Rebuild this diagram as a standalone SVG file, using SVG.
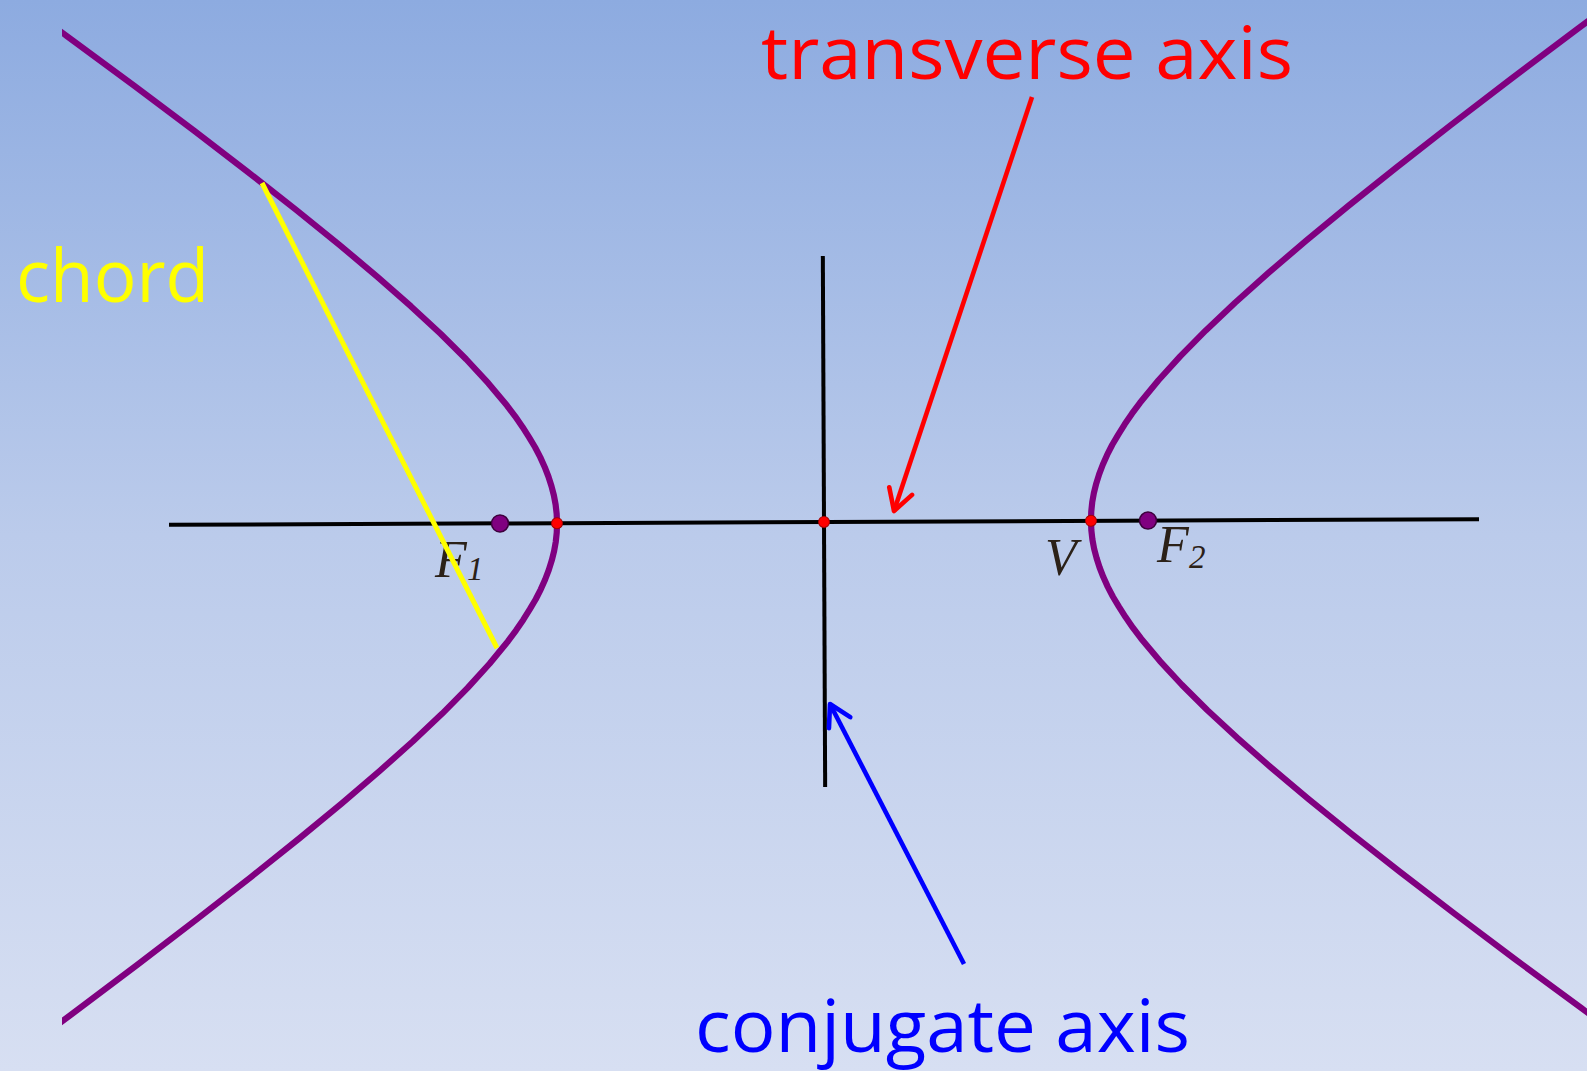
<svg xmlns="http://www.w3.org/2000/svg" width="1587" height="1071" viewBox="0 0 1587 1071">
  <style>
    .axis { stroke: #000; stroke-width: 4; fill: none; stroke-linecap: butt; }
    .hyp { stroke: #800080; stroke-width: 6.2; fill: none; stroke-linejoin: round; }
    .focus { fill: #800080; stroke: #3d003d; stroke-width: 1.5; }
    .vertex { fill: #ff0000; stroke: #a00000; stroke-width: 1; }
    .lbl { font-family: "Liberation Serif", "Times New Roman", serif; font-style: italic; fill: #2b2118; }
    .big { font-family: "Open Sans", "Liberation Sans", sans-serif; font-size: 74px; }
  </style>
  <defs>
    <linearGradient id="bg" x1="0" y1="0" x2="0" y2="1">
      <stop offset="0" stop-color="#8DABE0"/>
      <stop offset="0.5" stop-color="#BBCBEB"/>
      <stop offset="1" stop-color="#D7DFF2"/>
    </linearGradient>
    <clipPath id="clipL">
      <rect x="62" y="0" width="1525" height="1071"/>
    </clipPath>
    <marker id="arrRed" markerUnits="userSpaceOnUse" markerWidth="40" markerHeight="40" viewBox="-30 -20 40 40" refX="0" refY="0" orient="auto">
      <path d="M-21,-12 L0,0 L-21,12" fill="none" stroke="#ff0000" stroke-width="4.6" stroke-linecap="round" stroke-linejoin="round"/>
    </marker>
    <marker id="arrBlue" markerUnits="userSpaceOnUse" markerWidth="40" markerHeight="40" viewBox="-30 -20 40 40" refX="0" refY="0" orient="auto">
      <path d="M-21,-12 L0,0 L-21,12" fill="none" stroke="#0000ff" stroke-width="4.6" stroke-linecap="round" stroke-linejoin="round"/>
    </marker>
  </defs>

  <rect x="0" y="0" width="1587" height="1071" fill="url(#bg)"/>

  <g id="figure" clip-path="url(#clipL)">
    <g transform="rotate(-0.25 824 522)">
      <g id="axes">
        <line class="axis" x1="169" y1="522" x2="1479" y2="522"/>
        <line class="axis" x1="824" y1="256" x2="824" y2="787"/>
      </g>
      <g id="left-branch">
        <path class="hyp" d="M-5.7,-22.3 L68.8,32.6 L135.8,82.5 L195.9,128.1 L249.7,169.7 L297.8,207.8 L340.6,242.7 L378.5,274.9 L412.0,304.6 L441.4,332.1 L466.9,357.7 L488.9,381.7 L507.5,404.2 L515.6,415.0 L522.9,425.6 L529.5,436.1 L535.4,446.0 L540.5,455.9 L544.9,465.7 L548.6,475.3 L551.6,484.8 L554.0,494.2 L555.7,503.5 L556.7,512.8 L557,522 L556.7,531.3 L555.7,540.5 L554.0,549.9 L551.6,559.2 L548.6,568.7 L544.9,578.3 L540.5,588.1 L535.4,598.0 L529.5,607.9 L522.9,618.4 L515.6,629.0 L507.5,639.8 L488.9,662.3 L466.9,686.3 L441.4,711.9 L412.0,739.4 L378.5,769.1 L340.6,801.3 L297.8,836.2 L249.7,874.3 L195.9,915.9 L135.8,961.5 L68.8,1011.4 L-5.7,1066.3"/>
      </g>
      <g id="right-branch">
        <path class="hyp" d="M1653.7,-22.3 L1579.2,32.6 L1512.2,82.5 L1452.1,128.1 L1398.3,169.7 L1350.2,207.8 L1307.4,242.7 L1269.5,274.9 L1236.0,304.6 L1206.6,332.1 L1181.1,357.7 L1159.1,381.7 L1140.5,404.2 L1132.4,415.0 L1125.1,425.6 L1118.5,436.1 L1112.6,446.0 L1107.5,455.9 L1103.1,465.7 L1099.4,475.3 L1096.4,484.8 L1094.0,494.2 L1092.3,503.5 L1091.3,512.8 L1091,522 L1091.3,531.3 L1092.3,540.5 L1094.0,549.9 L1096.4,559.2 L1099.4,568.7 L1103.1,578.3 L1107.5,588.1 L1112.6,598.0 L1118.5,607.9 L1125.1,618.4 L1132.4,629.0 L1140.5,639.8 L1159.1,662.3 L1181.1,686.3 L1206.6,711.9 L1236.0,739.4 L1269.5,769.1 L1307.4,801.3 L1350.2,836.2 L1398.3,874.3 L1452.1,915.9 L1512.2,961.5 L1579.2,1011.4 L1653.7,1066.3"/>
      </g>
    </g>
  </g>

  <g id="labels">
    <g id="label-F1">
      <text class="lbl" x="435" y="577" font-size="52">F</text>
      <text class="lbl" x="467" y="580" font-size="33">1</text>
    </g>
    <g id="label-V">
      <text class="lbl" x="1045" y="575" font-size="52">V</text>
    </g>
    <g id="label-F2">
      <text class="lbl" x="1157" y="562" font-size="52">F</text>
      <text class="lbl" x="1189" y="568" font-size="33">2</text>
    </g>
  </g>

  <g id="chord">
    <line x1="262" y1="183" x2="497" y2="648" stroke="#ffff00" stroke-width="5"/>
  </g>

  <g id="points" transform="rotate(-0.25 824 522)">
    <circle id="F1" class="focus" cx="500" cy="522" r="8.5"/>
    <circle id="F2" class="focus" cx="1148" cy="522" r="8.5"/>
    <circle id="vertex-left" class="vertex" cx="557" cy="522" r="5.5"/>
    <circle id="vertex-right" class="vertex" cx="1091" cy="522" r="5.5"/>
    <circle id="center" class="vertex" cx="824" cy="522" r="5.5"/>
  </g>

  <g id="connectors">
    <line x1="1032" y1="97" x2="894" y2="511" stroke="#ff0000" stroke-width="4.6" marker-end="url(#arrRed)"/>
    <line x1="964" y1="964" x2="830" y2="704" stroke="#0000ff" stroke-width="4.6" marker-end="url(#arrBlue)"/>
  </g>

  <g id="text-transverse">
    <text class="big" x="761" y="79" fill="#ff0000" textLength="532" lengthAdjust="spacingAndGlyphs">transverse axis</text>
  </g>
  <g id="text-chord">
    <text class="big" x="16" y="302" fill="#ffff00" textLength="193" lengthAdjust="spacingAndGlyphs">chord</text>
  </g>
  <g id="text-conjugate">
    <text class="big" x="695" y="1052" fill="#0000ff" textLength="495" lengthAdjust="spacingAndGlyphs">conjugate axis</text>
  </g>
</svg>
